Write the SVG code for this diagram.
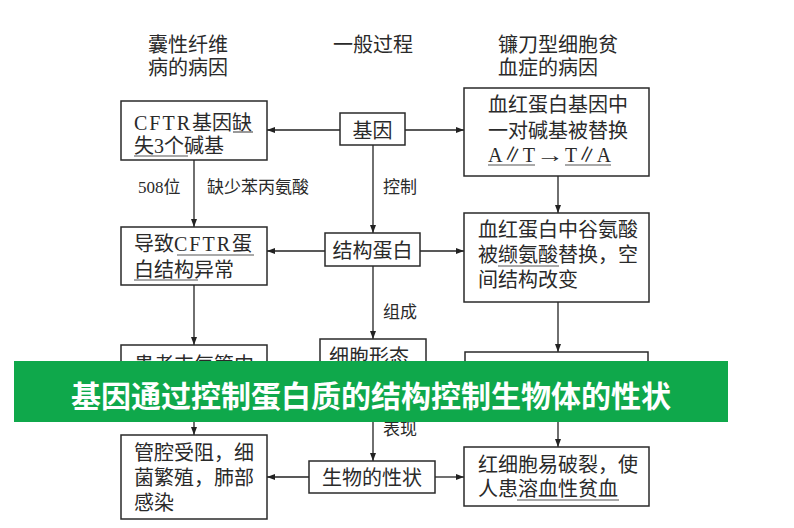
<svg xmlns="http://www.w3.org/2000/svg" width="794" height="528" viewBox="0 0 794 528">
<defs>
<marker id="ah" markerWidth="8" markerHeight="6" refX="8" refY="3" orient="auto" markerUnits="userSpaceOnUse"><path d="M0,0 L8,3 L0,6 z" fill="#222"/></marker>
<style>
.box{fill:#fff;stroke:#2a2a2a;stroke-width:1.5}
.t{font-family:"Liberation Serif","Noto Sans CJK SC",serif;font-size:20px;fill:#2a2a2a}
.l{font-family:"Liberation Serif","Noto Sans CJK SC",serif;font-size:17px;fill:#2a2a2a}
.c line{stroke:#222;stroke-width:1.3}
.u{stroke:#555;stroke-width:1.2}
.band{font-family:"Noto Sans CJK SC",sans-serif;font-weight:bold;font-size:30px;fill:#fff}
</style>
</defs>
<rect width="794" height="528" fill="#fff"/>

<g id="headers">
<text class="t" x="148" y="52">囊性纤维</text>
<text class="t" x="148" y="75">病的病因</text>
<text class="t" x="333" y="52">一般过程</text>
<text class="t" x="498" y="52">镰刀型细胞贫</text>
<text class="t" x="498" y="75">血症的病因</text>
</g>

<g id="connectors" class="c">
<line x1="340" y1="130" x2="267" y2="130" marker-end="url(#ah)"/>
<line x1="405" y1="130" x2="464" y2="130" marker-end="url(#ah)"/>
<line x1="373" y1="145" x2="373" y2="233" marker-end="url(#ah)"/>
<line x1="194" y1="160" x2="194" y2="227" marker-end="url(#ah)"/>
<line x1="558" y1="176" x2="558" y2="213" marker-end="url(#ah)"/>
<line x1="325" y1="251" x2="267" y2="251" marker-end="url(#ah)"/>
<line x1="420" y1="251" x2="464" y2="251" marker-end="url(#ah)"/>
<line x1="194" y1="285" x2="194" y2="345" marker-end="url(#ah)"/>
<line x1="373" y1="266" x2="373" y2="339" marker-end="url(#ah)"/>
<line x1="558" y1="302" x2="558" y2="352" marker-end="url(#ah)"/>
<line x1="194" y1="412" x2="194" y2="435" marker-end="url(#ah)"/>
<line x1="373" y1="412" x2="373" y2="461" marker-end="url(#ah)"/>
<line x1="558" y1="412" x2="558" y2="447" marker-end="url(#ah)"/>
<line x1="309" y1="477" x2="267" y2="477" marker-end="url(#ah)"/>
<line x1="435" y1="477" x2="464" y2="477" marker-end="url(#ah)"/>
</g>

<g id="labels">
<text class="l" x="138" y="193">508位</text>
<text class="l" x="207" y="193">缺少苯丙氨酸</text>
<text class="l" x="383" y="193">控制</text>
<text class="l" x="383" y="318">组成</text>
<text class="l" x="383" y="435">表现</text>
</g>

<g id="n-cftr">
<rect class="box" x="121" y="101" width="146" height="59"/>
<text class="t" x="134" y="130"><tspan letter-spacing="2">CFTR</tspan>基因缺</text>
<text class="t" x="134" y="153">失3个碱基</text>
<line class="u" x1="233" y1="132" x2="253" y2="132"/>
<line class="u" x1="134" y1="156" x2="188" y2="156"/>
</g>

<g id="n-gene">
<rect class="box" x="340" y="113" width="65" height="32"/>
<text class="t" x="372.5" y="138" text-anchor="middle">基因</text>
</g>

<g id="n-hb1">
<rect class="box" x="464" y="88" width="185" height="88"/>
<text class="t" x="488" y="112">血红蛋白基因中</text>
<text class="t" x="488" y="138">一对碱基被替换</text>
<text class="t" x="488" y="162" textLength="47" lengthAdjust="spacingAndGlyphs">A∥T</text>
<text class="t" x="536" y="162" textLength="28" lengthAdjust="spacingAndGlyphs">→</text>
<text class="t" x="565" y="162" textLength="46" lengthAdjust="spacingAndGlyphs">T∥A</text>
<line class="u" x1="488" y1="165" x2="535" y2="165"/>
<line class="u" x1="565" y1="165" x2="611" y2="165"/>
</g>

<g id="n-cftr-protein">
<rect class="box" x="121" y="227" width="146" height="58"/>
<text class="t" x="134" y="251">导致<tspan letter-spacing="2">CFTR</tspan>蛋</text>
<text class="t" x="134" y="277">白结构异常</text>
<line class="u" x1="177" y1="255" x2="254" y2="255"/>
<line class="u" x1="134" y1="280" x2="198" y2="280"/>
</g>

<g id="n-protein">
<rect class="box" x="325" y="233" width="95" height="33"/>
<text class="t" x="372.5" y="258" text-anchor="middle">结构蛋白</text>
</g>

<g id="n-hb2">
<rect class="box" x="464" y="213" width="185" height="89"/>
<text class="t" x="478" y="237">血红蛋白中谷氨酸</text>
<text class="t" x="478" y="262">被缬氨酸替换，空</text>
<text class="t" x="478" y="287">间结构改变</text>
<line class="u" x1="498" y1="266" x2="559" y2="266"/>
</g>

<g id="n-patient">
<rect class="box" x="121" y="345" width="146" height="67"/>
<text class="t" x="134" y="372">患者支气管内</text>
</g>

<g id="n-cell">
<rect class="box" x="320" y="339" width="106" height="73"/>
<text class="t" x="329" y="364">细胞形态</text>
</g>

<g id="n-hb3">
<rect class="box" x="465" y="352" width="183" height="60"/>
</g>

<g id="n-lung">
<rect class="box" x="121" y="435" width="146" height="84"/>
<text class="t" x="134" y="460">管腔受阻，细</text>
<text class="t" x="134" y="485">菌繁殖，肺部</text>
<text class="t" x="134" y="510">感染</text>
</g>

<g id="n-trait">
<rect class="box" x="309" y="461" width="126" height="32"/>
<text class="t" x="372" y="485" text-anchor="middle">生物的性状</text>
</g>

<g id="n-anemia">
<rect class="box" x="464" y="447" width="185" height="59"/>
<text class="t" x="478" y="472">红细胞易破裂，使</text>
<text class="t" x="478" y="496">人患溶血性贫血</text>
<line class="u" x1="517" y1="500" x2="619" y2="500"/>
</g>

<g id="banner">
<rect x="14" y="361" width="714" height="61" fill="#0fa84b"/>
<text class="band" x="371" y="407" text-anchor="middle">基因通过控制蛋白质的结构控制生物体的性状</text>
</g>
</svg>
